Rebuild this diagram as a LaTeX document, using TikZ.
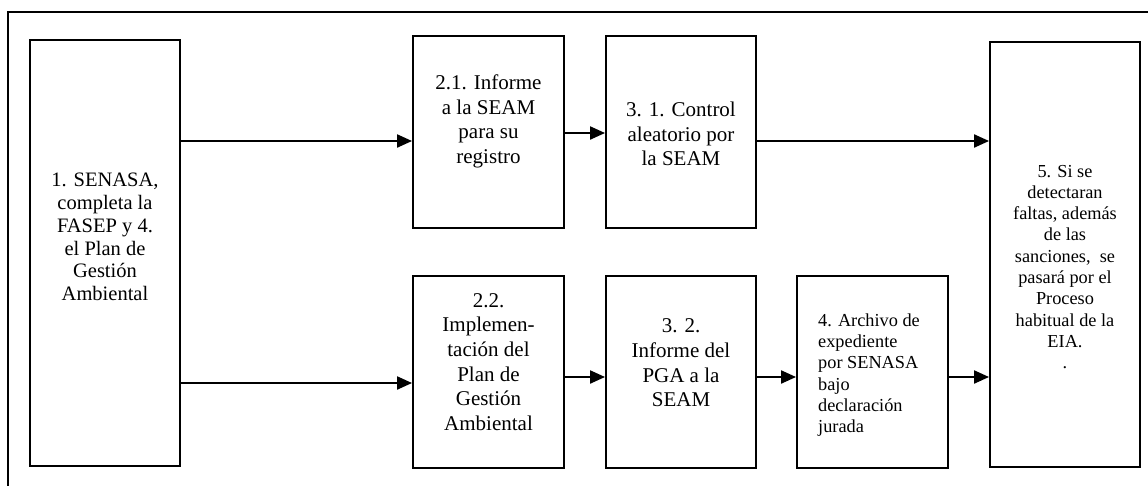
\documentclass[tikz,border=0pt]{standalone}
\usepackage{fontspec}
\setmainfont{Liberation Serif}
\usetikzlibrary{arrows.meta,calc}
\begin{document}
\begin{tikzpicture}[x=1pt,y=-1pt,
  box/.style={draw, line width=1.9pt, inner sep=0pt, minimum width=150pt},
  txt/.style={inner sep=0pt, align=center},
  bigf/.style={font=\fontsize{21}{24.6}\selectfont},
  midf/.style={font=\fontsize{20.5}{22.7}\selectfont},
  smallf/.style={font=\fontsize{18.3}{21.3}\selectfont},
  arr/.style={line width=2.1pt, -{Triangle[length=15pt,width=13pt]}}]
\useasboundingbox (0,0) rectangle (1148,485);
\clip (0,0) rectangle (1148,485);
\draw[line width=1.6pt] (8,12) rectangle (1170,510);
% boxes
\node[box, minimum height=426pt] (b1) at (105,253) {};
\node[box, minimum width=151pt, minimum height=192pt] (b21) at (488.5,132) {};
\node[box, minimum height=192pt] (b31) at (681,132) {};
\node[box, minimum width=151pt, minimum height=192pt] (b22) at (488.5,372) {};
\node[box, minimum height=192pt] (b32) at (681,372) {};
\node[box, minimum width=151pt, minimum height=192pt] (b4) at (872.5,372) {};
\node[box, minimum height=425pt] (b5) at (1065,254.5) {};
% texts
\node[txt, midf] (t1) at (105,237) {1. SENASA,\\completa la\\FASEP y 4.\\el Plan de\\Gestión\\Ambiental};
\node[txt, bigf] (t21) at (488.5,121.5) {2.1. Informe\\a la SEAM\\para su\\registro};
\node[txt, bigf] (t31) at (681,134) {3. 1. Control\\aleatorio por\\la SEAM};
\node[txt, bigf] (t22) at (488.5,362) {2.2.\\Implemen-\\tación del\\Plan de\\Gestión\\Ambiental};
\node[txt, bigf] (t32) at (681,363) {3. 2.\\Informe del\\PGA a la\\SEAM};
\node[txt, smallf, align=left, anchor=west] (t4) at (818,375) {4. Archivo de\\expediente\\por SENASA\\bajo\\declaración\\jurada};
\node[txt, smallf] (t5) at (1065,267) {5. Si se\\detectaran\\faltas, además\\de las\\sanciones,\ \ se\\pasará por el\\Proceso\\habitual de la\\EIA.\\.};
% arrow levels
\coordinate (ya) at (0,141);
\coordinate (yb) at (0,133);
\coordinate (yc) at (0,383);
\coordinate (yd) at (0,377);
\draw[arr] (b1.east |- ya) -- (b21.west |- ya);
\draw[arr] (b21.east |- yb) -- (b31.west |- yb);
\draw[arr] (b31.east |- ya) -- (b5.west |- ya);
\draw[arr] (b1.east |- yc) -- (b22.west |- yc);
\draw[arr] (b22.east |- yd) -- (b32.west |- yd);
\draw[arr] (b32.east |- yd) -- (b4.west |- yd);
\draw[arr] (b4.east |- yd) -- (b5.west |- yd);
\end{tikzpicture}
\end{document}
